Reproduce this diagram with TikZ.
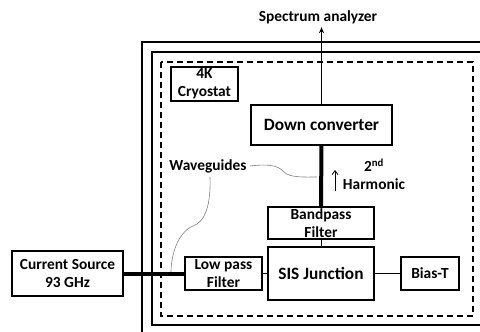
\documentclass[tikz,border=0pt]{standalone}
\usepackage{fontspec}
\setmainfont{Carlito}
\usetikzlibrary{arrows.meta}

\begin{document}
\begin{tikzpicture}[x=1pt,y=-1pt,
        font=\bfseries\fontsize{15.4}{18}\selectfont,
        block/.style={draw,line width=1.3pt,inner sep=1pt,align=center},
        big/.style={font=\bfseries\fontsize{17.3}{20}\selectfont},
        wall/.style={line width=1.6pt},
        guide/.style={line width=4pt},
        wire/.style={line width=1pt},
        curve/.style={gray,line width=0.6pt},
        >={Stealth[length=6pt,width=5pt]} % Pfeilspitzen
        ]
    \clip (0,0) rectangle (480,332);

    % Gehaeuse
    \draw[wall] (142,42) rectangle (500,350);
    \draw[wall] (152,52) rectangle (500,325);
    \draw[line width=1.3pt,dash pattern=on 6pt off 4pt] (161,62) rectangle (473,316);

    % Bloecke
    \node[block,minimum width=67pt,minimum height=34pt] (cryo) at (204.5,84) {4K\\Cryostat};
    \node[block,big,minimum width=141pt,minimum height=40pt] (down) at (321.5,125) {Down converter};
    \node[block,minimum width=106pt,minimum height=32pt] (bpf) at (321,223) {Bandpass\\Filter};
    \node[block,big,minimum width=106pt,minimum height=53pt] (sis) at (321,273.5) {SIS Junction};
    \node[block,minimum width=77pt,minimum height=33pt] (lpf) at (223.5,273.5) {Low pass\\Filter};
    \node[block,minimum width=58pt,minimum height=33pt] (bias) at (430,273.5) {Bias-T};
    \node[block,minimum width=111pt,minimum height=45pt] (src) at (67.5,273.5) {Current Source\\93 GHz};

    % Beschriftungen
    \node (spec) at (318,17) {Spectrum analyzer};
    \node (wg) at (208,166) {Waveguides};
    \node[align=center] (harm) at (374,174) {2\textsuperscript{nd}\\Harmonic};

    % Leitungen
    \draw[wire,->] (down.north) -- (down.north |- spec.south);
    \draw[guide] (down.south) -- (bpf.north);
    \draw[guide] (src.east) -- (lpf.west);
    \draw[wire] (bpf.south) -- (sis.north);
    \draw[wire] (lpf.east) -- (sis.west);
    \draw[wire] (sis.east) -- (bias.west);

    % Pfeil zur 2. Harmonischen
    \coordinate (ha1) at (335,191);
    \coordinate (ha2) at (335,170);
    \draw[line width=0.8pt,-{Straight Barb[length=4pt,width=6pt]}] (ha1) -- (ha2);

    % Hohlleiter-Hinweise
    \coordinate (wg1) at (317,177);
    \coordinate (wg2) at (171,272);
    \draw[curve] (wg.east) .. controls (275,163) and (280,168) .. (284,172)
                           .. controls (290,178) and (305,177) .. (wg1);
    \draw[curve] (210,177) .. controls (211,205) and (205,222) .. (193,226)
                           .. controls (178,232) and (171,255) .. (wg2);
\end{tikzpicture}
\end{document}
